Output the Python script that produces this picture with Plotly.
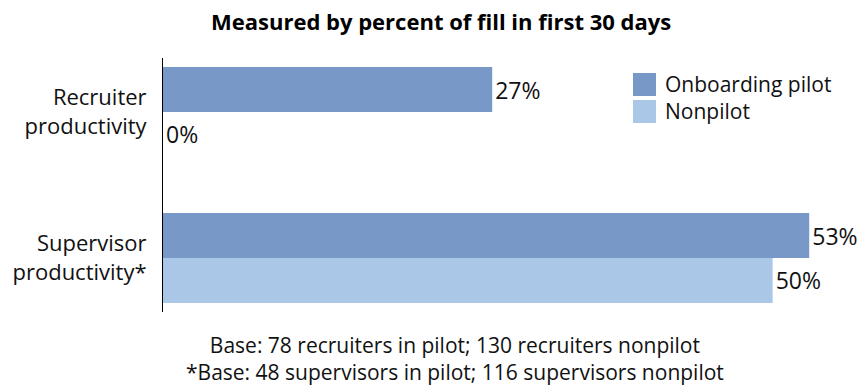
import plotly.graph_objects as go

categories = ["Recruiter<br>productivity", "Supervisor<br>productivity*"]
pilot = [27, 53]
nonpilot = [0, 50]
series_names = ["Onboarding pilot", "Nonpilot"]
colors = ["#7898C8", "#AAC7E8"]
title = "Measured by percent of fill in first 30 days"
footer = ["Base: 78 recruiters in pilot; 130 recruiters nonpilot",
          "*Base: 48 supervisors in pilot; 116 supervisors nonpilot"]

W, H = 863, 386
ML, MR, MT, MB = 163, 5, 58, 74
PW, PH = W - ML - MR, H - MT - MB
FONT = "Open Sans"

def px(x):
    return (x - ML) / PW

def py(y):
    return 1 - (y - MT) / PH

fig = go.Figure()
for name, vals, col in zip(series_names, [pilot, nonpilot], colors):
    fig.add_trace(go.Bar(
        y=categories, x=vals, orientation="h", name=name,
        marker=dict(color=col, line=dict(width=0)),
        text=[f"{v}%" for v in vals], textposition="outside",
        textfont=dict(family=FONT, size=23, color="#111"),
        cliponaxis=False, showlegend=False,
    ))

fig.update_layout(
    width=W, height=H, margin=dict(l=ML, r=MR, t=MT, b=MB),
    paper_bgcolor="white", plot_bgcolor="white",
    barmode="group", bargap=0.384, bargroupgap=0,
    font=dict(family=FONT, size=22, color="#111"),
    xaxis=dict(range=[0, 57], showgrid=False, zeroline=False, showline=False,
               showticklabels=False, ticks=""),
    yaxis=dict(range=[1.37, -0.37], showline=True, linecolor="black", linewidth=1,
               showgrid=False, zeroline=False, ticks="", ticklabelstandoff=11,
               tickfont=dict(family=FONT, size=22, color="#111")),
)

fig.add_annotation(text=f"<b>{title}</b>", xref="paper", yref="paper",
                   x=px(441), y=py(21), xanchor="center", yanchor="middle",
                   showarrow=False, font=dict(family=FONT, size=22, color="#000"))
fig.add_annotation(text="<br>".join(footer), xref="paper", yref="paper",
                   x=px(455), y=py(358), xanchor="center", yanchor="middle",
                   showarrow=False, font=dict(family=FONT, size=21, color="#111"))

# legend
for i, col in enumerate(colors):
    y0 = 73 + 27 * i
    fig.add_shape(type="rect", xref="paper", yref="paper",
                  x0=px(633), x1=px(656), y0=py(y0), y1=py(y0 + 23),
                  fillcolor=col, line=dict(width=0))
fig.add_annotation(text="<br>".join(series_names), xref="paper", yref="paper",
                   x=px(663), y=py(98), xanchor="left", yanchor="middle", align="left",
                   showarrow=False, font=dict(family=FONT, size=21, color="#111"))

fig.write_html("out.html")
